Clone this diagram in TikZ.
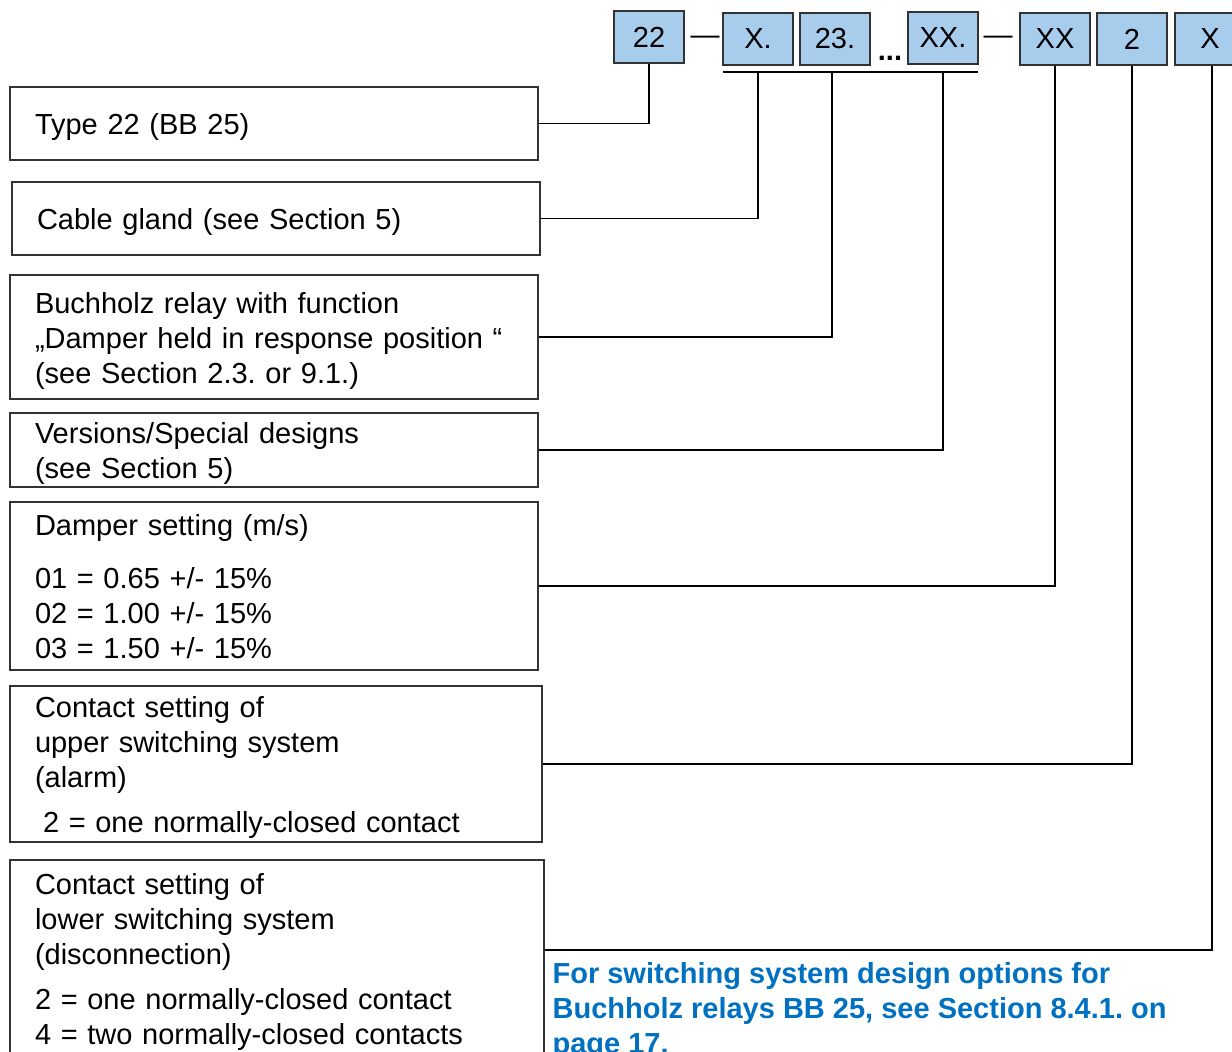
\documentclass[tikz,border=0pt]{standalone}
\usepackage{fontspec}
\setmainfont{Liberation Sans}
\usetikzlibrary{positioning}
\definecolor{codeblue}{RGB}{168,204,236}
\definecolor{noteblue}{RGB}{0,112,192}
\frenchspacing

\begin{document}
\begin{tikzpicture}[x=0.5pt,y=-0.5pt,line width=0.6pt,
    every node/.style={font=\fontsize{14.5}{17.5}\selectfont},
    code/.style={draw=black!80,fill=codeblue,minimum width=35pt,minimum height=26pt,inner sep=0pt},
    info/.style={draw=black!80,align=left,inner xsep=12.5pt,inner ysep=0pt,execute at begin node={\rule{0pt}{14.5pt}}}]
        \useasboundingbox (0,0) rectangle (1232,1052);
        % Type code boxes
        \node[code] (c22) at (649,37) {22};
        \node (d1) at (705,40) {—};
        \node[code] (cXa) at (758,39) {X.};
        \node[code] (c23) at (835,39) {23.};
        \node (dots) at (890,58) {\textbf{...}};
        \node[code] (cXXa) at (943,38) {XX.};
        \node (d2) at (998,40) {—};
        \node[code] (cXXb) at (1055,39) {XX};
        \node[code] (c2) at (1132,39) {2};
        \node[code] (cX) at (1210,39) {X};
        \coordinate (barL) at (723,72);
        \coordinate (barR) at (978,72);
        \draw (barL) -- (barR);
        % Description boxes
        \node[info,text width=239pt,minimum height=36.5pt] (type) at (274,123.5) {Type 22 (BB 25)};
        \node[info,text width=239pt,minimum height=36.5pt] (gland) at (276,218.5) {Cable gland (see Section 5)};
        \node[info,text width=239pt,minimum height=62pt] (relay) at (274,337) {Buchholz relay with function\\„Damper held in response position “\\(see Section 2.3. or 9.1.)};
        \node[info,text width=239pt,minimum height=37pt] (versions) at (274,450) {Versions/Special designs\\(see Section 5)};
        \node[info,text width=239pt,minimum height=84pt] (damper) at (274,586) {Damper setting (m/s)\\[9pt]01 = 0.65 +/- 15\%\\02 = 1.00 +/- 15\%\\03 = 1.50 +/- 15\%\rule[-3pt]{0pt}{0pt}};
        \node[info,text width=241pt,minimum height=78pt] (upper) at (276,764) {Contact setting of\\upper switching system\\(alarm)\\[5pt]\hspace{4pt}2 = one normally-closed contact};
        \node[info,text width=242pt,minimum height=98pt] (lower) at (277,958) {Contact setting of\\lower switching system\\(disconnection)\\[5pt]2 = one normally-closed contact\\4 = two normally-closed contacts};
        \node[anchor=north west,align=left,inner sep=0pt,text=noteblue,font=\fontsize{14.5}{17.5}\selectfont\bfseries] (note) at (552,962) {For switching system design options for\\Buchholz relays BB 25, see Section 8.4.1. on\\page 17.};
        % Connectors
        \coordinate (lowend) at ([yshift=4pt]lower.east);
        \draw (c22.south) |- (type.east);
        \draw (cXa.south |- barL) |- (gland.east);
        \draw ([xshift=-1.5pt]c23.south |- barL) |- (relay.east);
        \draw (cXXa.south |- barL) |- (versions.east);
        \draw (cXXb.south) |- (damper.east);
        \draw (c2.south) |- (upper.east);
        \draw ([xshift=1pt]cX.south) |- (lowend);
\end{tikzpicture}
\end{document}
